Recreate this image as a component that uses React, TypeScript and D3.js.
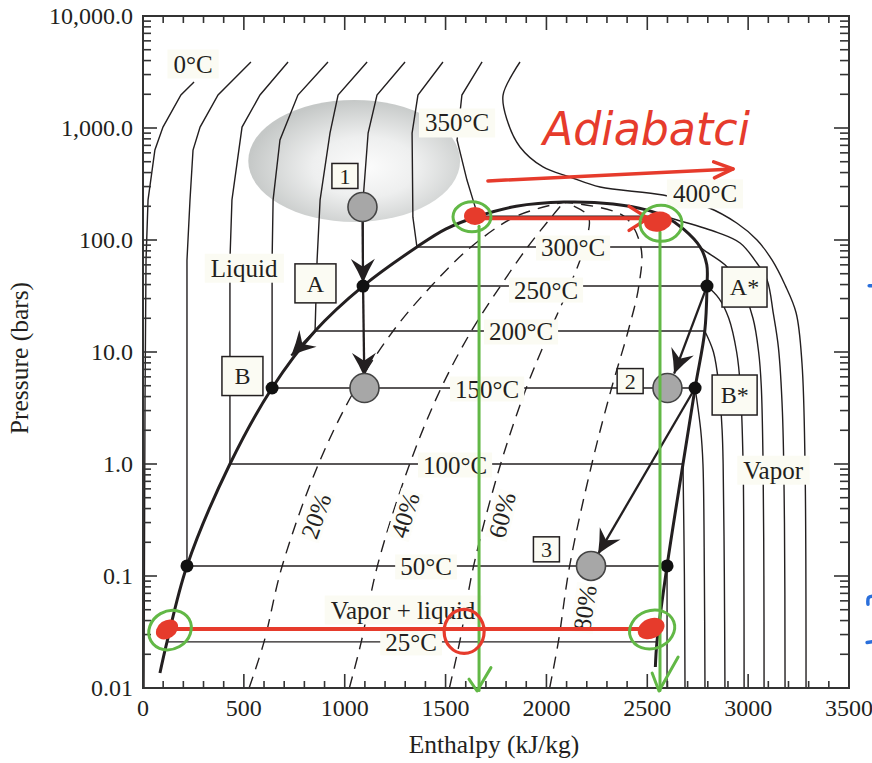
import React, { useEffect, useRef } from "react"
import * as d3 from "d3"

type Pt = [number, number]

// axis ticks
const xTickValues = [0, 500, 1000, 1500, 2000, 2500, 3000, 3500]
const yTickValues = [0.01, 0.1, 1, 10, 100, 1000, 10000]
const yTickLabels = ["0.01", "0.1", "1.0", "10.0", "100.0", "1,000.0", "10,000.0"]

// saturation dome: enthalpy (kJ/kg) / pressure (bar), liquid side up then vapour side down
const domeH = [84, 119, 218, 431, 640, 853, 1091, 1358, 1500, 1661, 1850, 2087, 2330, 2500, 2585, 2680, 2762, 2795, 2796, 2785, 2737, 2677, 2598, 2548, 2540]
const domeP = [0.0136, 0.0258, 0.123, 1.0, 4.77, 15.4, 38.8, 86.6, 125, 163, 200, 218, 210, 185, 163, 125, 86.6, 60, 38.8, 15.4, 4.77, 1.0, 0.123, 0.0258, 0.0154]

// isotherms across the two-phase region
const tieNames = ["25°C", "50°C", "100°C", "150°C", "200°C", "250°C", "300°C", ""]
const tieP = [0.0258, 0.123, 1.0, 4.77, 15.4, 38.8, 86.6, 163]
const tieHf = [119, 218, 431, 640, 853, 1091, 1358, 1661]
const tieHg = [2548, 2598, 2677, 2737, 2785, 2796, 2762, 2585]
const tieLabelH = [1329, 1403, 1547, 1706, 1874, 1998, 2132, NaN]

// liquid-side isotherms
const iso0: Pt[] = [[5, 0.01], [10, 3.7], [15, 66], [25, 228], [59, 636], [99, 1020], [188, 1970], [253, 2575]]
const iso50L: Pt[] = [[218, 0.123], [218, 66], [233, 228], [248, 636], [283, 1020], [372, 1970], [535, 3885]]
const iso100L: Pt[] = [[431, 1], [431, 66], [441, 228], [491, 1020], [580, 1970], [719, 3885]]
const iso150L: Pt[] = [[640, 4.77], [640, 66], [645, 228], [679, 782], [768, 1970], [917, 3885]]
const iso200L: Pt[] = [[853, 15.4], [863, 66], [878, 228], [927, 900], [967, 1970], [1111, 3885]]
const iso250L: Pt[] = [[1091, 38.8], [1091, 228], [1116, 900], [1160, 1970], [1299, 3885]]
const iso300L: Pt[] = [[1358, 86.6], [1338, 160], [1334, 900], [1363, 1970], [1487, 3885]]
const iso350L: Pt[] = [[1661, 163], [1636, 228], [1606, 343], [1557, 782], [1581, 1970], [1681, 3885]]

// vapour-side isotherms
const iso50V: Pt[] = [[2598, 0.123], [2598, 0.01]]
const iso100V: Pt[] = [[2677, 1], [2684, 0.1], [2687, 0.01]]
const iso150V: Pt[] = [[2737, 4.77], [2765, 2], [2776, 1], [2783, 0.1], [2786, 0.01]]
const iso200V: Pt[] = [[2785, 15.4], [2828, 10], [2855, 5], [2871, 2], [2876, 1], [2882, 0.1], [2885, 0.01]]
const iso250V: Pt[] = [[2796, 38.8], [2856, 30], [2904, 20], [2943, 10], [2961, 5], [2975, 1], [2979, 0.1], [2980, 0.01]]
const iso300V: Pt[] = [[2762, 86.6], [2786, 80], [2885, 60], [2961, 40], [3024, 20], [3052, 10], [3065, 5], [3074, 1], [3078, 0.1], [3079, 0.01]]
const iso350V: Pt[] = [[2585, 163], [2648, 151], [2846, 117], [2960, 94], [3044, 62], [3094, 44], [3125, 22], [3150, 11], [3170, 2.9], [3180, 0.3], [3183, 0.01]]
const iso400: Pt[] = [[1869, 3885], [1785, 1970], [1805, 1178], [1869, 677], [1983, 449], [2117, 365], [2266, 297], [2578, 252], [2796, 197], [2945, 141], [3044, 100], [3119, 66], [3183, 39.6], [3238, 22.3], [3267, 7.9], [3282, 1], [3287, 0.01]]

// constant quality lines
const qualityP = [0.01, 0.0258, 0.123, 1, 4.77, 15.4, 38.8, 86.6, 163, 218]
const q20H = [526, 600, 690, 870, 1055, 1240, 1429, 1626, 1850, 2087]
const q40H = [1023, 1082, 1162, 1322, 1478, 1628, 1772, 1907, 2028, 2087]
const q60H = [1519, 1570, 1639, 1773, 1900, 2017, 2115, 2187, 2207, 2087]
const q80H = [2016, 2059, 2115, 2225, 2323, 2405, 2458, 2468, 2385, 2087]
const qualityNames = ["20%", "40%", "60%", "80%"]
const qualityLabelH = [858, 1299, 1780, 2191]
const qualityLabelP = [0.343, 0.35, 0.35, 0.0518]

// region / curve labels
const noteNames = ["0°C", "350°C", "400°C", "Liquid", "Vapor", "Vapor + liquid"]
const noteH = [248, 1557, 2786, 501, 3124, 1289]
const noteP = [3727, 1109, 258, 56, 0.88, 0.0497]

// states
const stateH = [1088, 1098, 2600, 2221]
const stateP = [197, 4.77, 4.77, 0.123]
const dotH = [1091, 2796, 640, 2737, 218, 2598]
const dotP = [38.8, 38.8, 4.77, 4.77, 0.123, 0.123]
const tagNames = ["1", "A", "B", "A*", "B*", "2", "3"]
const tagH = [1001, 855, 493, 2982, 2933, 2415, 2000]
const tagP = [373, 41, 6.1, 38, 4.13, 5.5, 0.173]

// process arrows
const arrowFromH = [1088, 1091, 853, 2796, 2737]
const arrowFromP = [185, 38.8, 15.4, 38.8, 4.77]
const arrowToH = [1091, 1097, 735, 2633, 2256]
const arrowToP = [41.5, 6.0, 9.3, 6.4, 0.157]

// shaded region
const blobH = [522, 1572]
const blobP = [145, 1780]

// hand-drawn overlay
const redDotH = [1646, 2553, 119, 2519]
const redDotP = [164, 146, 0.0333, 0.034]
const greenRingH = [1631, 2568, 134, 2524]
const greenRingP = [161, 141, 0.0329, 0.0333]
const greenDropH = [1666, 2563]
const greenDropTopP = [133, 118]
const greenDropBottomP = [0.0095, 0.0095]
const checkLeft: Pt[] = [[1616, 0.012], [1656, 0.0094], [1725, 0.0152]]
const checkRight: Pt[] = [[2524, 0.0136], [2558, 0.0094], [2653, 0.0189]]
const redBottomLine: Pt[] = [[119, 0.0336], [2519, 0.0336]]
const redTopLine: Pt[] = [[1646, 156], [2504, 156]]
const redArrow: Pt[] = [[1710, 337], [2925, 431]]
const redRing: Pt = [1592, 0.032]
const scribbleText = "Adiabatci"
const scribbleAt: Pt = [1983, 705]
const blueMarkA: Pt[] = [[3594, 0.056], [3597, 0.064], [3620, 0.066]]
const blueMarkB: Pt[] = [[3590, 0.0255], [3625, 0.026]]
const blueMarkC: Pt[] = [[3600, 39], [3620, 39]]

const W = 872
const H = 763
const margin = { top: 16, right: 23, bottom: 75, left: 143 }

function App() {
    const svgRef = useRef<SVGSVGElement>(null)

    useEffect(() => {
        const svg = d3.select(svgRef.current)
        svg.selectAll("*").remove()

        const ink = "#231f20"
        const serif = "'Liberation Serif', 'DejaVu Serif', serif"
        const paper = "#fbfbf3"
        const red = "#e63b2c"
        const green = "#62b846"
        const blue = "#2a6fdb"

        const x = d3.scaleLinear().domain([0, 3500]).range([margin.left, W - margin.right])
        const y = d3.scaleLog().domain([0.01, 10000]).range([H - margin.bottom, margin.top])

        const straight = d3.line<Pt>().x((d) => x(d[0])).y((d) => y(d[1]))
        const smooth = d3
            .line<Pt>()
            .x((d) => x(d[0]))
            .y((d) => y(d[1]))
            .curve(d3.curveCatmullRom.alpha(0.5))

        const defs = svg.append("defs")
        const grad = defs
            .append("radialGradient")
            .attr("id", "blob")
            .attr("cx", "55%")
            .attr("cy", "55%")
            .attr("r", "55%")
        grad.append("stop").attr("offset", "0%").attr("stop-color", "#fcfcfc")
        grad.append("stop").attr("offset", "45%").attr("stop-color", "#eeefef")
        grad.append("stop").attr("offset", "100%").attr("stop-color", "#c5c8c7")

        defs.append("marker")
            .attr("id", "stealth")
            .attr("viewBox", "-26 -14 28 28")
            .attr("refX", 0)
            .attr("refY", 0)
            .attr("markerWidth", 28)
            .attr("markerHeight", 28)
            .attr("markerUnits", "userSpaceOnUse")
            .attr("orient", "auto")
            .append("path")
            .attr("d", "M0,0 Q-12,-5 -24,-12 L-16,0 L-24,12 Q-12,5 0,0Z")
            .attr("fill", ink)

        const chevron = (id: string, back: number, half: number) =>
            defs.append("marker")
                .attr("id", id)
                .attr("viewBox", `${-back - 4} ${-half - 4} ${back + 8} ${2 * half + 8}`)
                .attr("refX", 0)
                .attr("refY", 0)
                .attr("markerWidth", back + 8)
                .attr("markerHeight", 2 * half + 8)
                .attr("markerUnits", "userSpaceOnUse")
                .attr("orient", "auto")
                .append("path")
                .attr("d", `M${-back},${-half} L0,0 L${-back},${half}`)
                .attr("fill", "none")
                .attr("stroke", red)
                .attr("stroke-width", 3.5)
                .attr("stroke-linecap", "round")
                .attr("stroke-linejoin", "round")
        chevron("redHeadBig", 19, 12)
        chevron("redHeadSmall", 19, 8)

        // shaded region
        svg.append("ellipse")
            .attr("cx", (x(blobH[0]) + x(blobH[1])) / 2)
            .attr("cy", (y(blobP[0]) + y(blobP[1])) / 2)
            .attr("rx", (x(blobH[1]) - x(blobH[0])) / 2)
            .attr("ry", (y(blobP[0]) - y(blobP[1])) / 2)
            .attr("fill", "url(#blob)")

        // quality lines
        const qualityLines = [q20H, q40H, q60H, q80H].map((hs) =>
            hs.map((h, i) => [h, qualityP[i]] as Pt)
        )
        qualityLines.forEach((pts) => {
            svg.append("path")
                .attr("d", smooth(pts))
                .attr("fill", "none")
                .attr("stroke", ink)
                .attr("stroke-width", 1.4)
                .attr("stroke-dasharray", "12,8")
        })

        // isotherms
        ;[iso0, iso50L, iso100L, iso150L, iso200L, iso250L, iso300L, iso350L].forEach((pts) => {
            svg.append("path")
                .attr("d", straight(pts))
                .attr("fill", "none")
                .attr("stroke", ink)
                .attr("stroke-width", 1.4)
        })
        ;[iso50V, iso100V, iso150V, iso200V, iso250V, iso300V, iso350V, iso400].forEach((pts) => {
            svg.append("path")
                .attr("d", smooth(pts))
                .attr("fill", "none")
                .attr("stroke", ink)
                .attr("stroke-width", 1.4)
        })
        tieP.forEach((p, i) => {
            svg.append("line")
                .attr("x1", x(tieHf[i]))
                .attr("x2", x(tieHg[i]))
                .attr("y1", y(p))
                .attr("y2", y(p))
                .attr("stroke", ink)
                .attr("stroke-width", 1.4)
        })

        // dome
        svg.append("path")
            .attr("d", smooth(domeH.map((h, i) => [h, domeP[i]] as Pt)))
            .attr("fill", "none")
            .attr("stroke", ink)
            .attr("stroke-width", 3)

        // process arrows
        arrowFromH.forEach((h, i) => {
            svg.append("line")
                .attr("x1", x(h))
                .attr("y1", y(arrowFromP[i]))
                .attr("x2", x(arrowToH[i]))
                .attr("y2", y(arrowToP[i]))
                .attr("stroke", ink)
                .attr("stroke-width", 2.3)
                .attr("marker-end", "url(#stealth)")
        })

        dotH.forEach((h, i) => {
            svg.append("circle")
                .attr("cx", x(h))
                .attr("cy", y(dotP[i]))
                .attr("r", 6.5)
                .attr("fill", "#111")
        })
        stateH.forEach((h, i) => {
            svg.append("circle")
                .attr("cx", x(h))
                .attr("cy", y(stateP[i]))
                .attr("r", 14.5)
                .attr("fill", "#a7a7a7")
                .attr("stroke", "#444")
                .attr("stroke-width", 1.6)
        })

        // text with a paper-coloured backing
        const label = (
            px: number,
            py: number,
            text: string,
            size: number,
            padX: number,
            padY: number,
            angle = 0,
            fill = paper
        ) => {
            const g = svg.append("g").attr("transform", `translate(${px},${py}) rotate(${angle})`)
            const rect = g.append("rect")
            const t = g
                .append("text")
                .attr("text-anchor", "middle")
                .attr("dy", "0.34em")
                .attr("font-family", serif)
                .attr("font-size", size)
                .attr("fill", ink)
                .text(text)
            const b = (t.node() as SVGTextElement).getBBox()
            rect.attr("x", b.x - padX)
                .attr("y", b.y - padY + size * 0.08)
                .attr("width", b.width + 2 * padX)
                .attr("height", b.height + 2 * padY - size * 0.16)
                .attr("fill", fill)
        }

        tieNames.forEach((name, i) => {
            if (!name) return
            label(x(tieLabelH[i]), y(tieP[i]) + (i === 5 ? 4 : 1), name, 25, 5, 1)
        })
        noteNames.forEach((name, i) => {
            label(x(noteH[i]), y(noteP[i]), name, 25, 6, 3)
        })
        qualityNames.forEach((name, i) => {
            const hs = qualityLines[i]
            const p = qualityLabelP[i]
            let k = 0
            while (k < qualityP.length - 2 && qualityP[k + 1] < p) k++
            const a = hs[k]
            const b = hs[k + 1]
            const ang = (Math.atan2(y(b[1]) - y(a[1]), x(b[0]) - x(a[0])) * 180) / Math.PI
            label(x(qualityLabelH[i]), y(p), name, 25, 2, 0, ang, "#fdfdf9")
        })

        // tag boxes
        tagNames.forEach((name, i) => {
            const digit = /^[0-9]$/.test(name)
            const bw = digit ? 26 : name.length > 1 ? 45 : 41
            const bh = digit ? 25 : name.length > 1 ? 40 : 39
            const g = svg.append("g").attr("transform", `translate(${x(tagH[i])},${y(tagP[i])})`)
            g.append("rect")
                .attr("x", -bw / 2)
                .attr("y", -bh / 2)
                .attr("width", bw)
                .attr("height", bh)
                .attr("fill", paper)
                .attr("stroke", ink)
                .attr("stroke-width", 1.5)
            g.append("text")
                .attr("text-anchor", "middle")
                .attr("dy", "0.35em")
                .attr("font-family", serif)
                .attr("font-size", digit ? 22 : 24)
                .attr("fill", ink)
                .text(name)
        })

        // axes frame and ticks
        const x0 = x(0)
        const x1 = x(3500)
        const y0 = y(0.01)
        const y1 = y(10000)
        const axis = svg.append("g").attr("stroke", "#333").attr("stroke-width", 1.6)
        d3.range(0, 3501, 100).forEach((v) => {
            const len = v % 500 === 0 ? 14 : 7
            axis.append("line").attr("x1", x(v)).attr("x2", x(v)).attr("y1", y0).attr("y2", y0 - len)
            axis.append("line").attr("x1", x(v)).attr("x2", x(v)).attr("y1", y1).attr("y2", y1 + len)
        })
        d3.range(-2, 4).forEach((k) => {
            d3.range(1, 10).forEach((m) => {
                const v = m * Math.pow(10, k)
                const len = m === 1 ? 14 : 8
                axis.append("line").attr("x1", x0).attr("x2", x0 + len).attr("y1", y(v)).attr("y2", y(v))
                axis.append("line").attr("x1", x1).attr("x2", x1 - len - 1).attr("y1", y(v)).attr("y2", y(v))
            })
        })
        axis.append("line").attr("x1", x0).attr("x2", x0 + 14).attr("y1", y1).attr("y2", y1)
        axis.append("line").attr("x1", x1).attr("x2", x1 - 15).attr("y1", y1).attr("y2", y1)
        svg.append("rect")
            .attr("x", x0)
            .attr("y", y1)
            .attr("width", x1 - x0)
            .attr("height", y0 - y1)
            .attr("fill", "none")
            .attr("stroke", "#333")
            .attr("stroke-width", 2)

        yTickValues.forEach((v, i) => {
            svg.append("text")
                .attr("x", x0 - 10)
                .attr("y", y(v))
                .attr("dy", "0.34em")
                .attr("text-anchor", "end")
                .attr("font-family", serif)
                .attr("font-size", 24)
                .attr("fill", ink)
                .text(yTickLabels[i])
        })
        xTickValues.forEach((v) => {
            svg.append("text")
                .attr("x", x(v))
                .attr("y", y0 + 28)
                .attr("text-anchor", "middle")
                .attr("font-family", serif)
                .attr("font-size", 24)
                .attr("fill", ink)
                .text(String(v))
        })
        svg.append("text")
            .attr("x", (x0 + x1) / 2 - 2)
            .attr("y", 753)
            .attr("text-anchor", "middle")
            .attr("font-family", serif)
            .attr("font-size", 25.5)
            .attr("fill", ink)
            .text("Enthalpy (kJ/kg)")
        svg.append("text")
            .attr("transform", `translate(28,${(y0 + y1) / 2 + 6}) rotate(-90)`)
            .attr("text-anchor", "middle")
            .attr("font-family", serif)
            .attr("font-size", 25.5)
            .attr("fill", ink)
            .text("Pressure (bars)")

        // hand-drawn overlay
        const over = svg.append("g").attr("fill", "none").attr("stroke-linecap", "round")
        greenDropH.forEach((h, i) => {
            over.append("line")
                .attr("x1", x(h))
                .attr("x2", x(h))
                .attr("y1", y(greenDropTopP[i]))
                .attr("y2", y(greenDropBottomP[i]))
                .attr("stroke", green)
                .attr("stroke-width", 3)
        })
        ;[checkLeft, checkRight].forEach((pts) => {
            over.append("path")
                .attr("d", straight(pts))
                .attr("stroke", green)
                .attr("stroke-width", 3)
                .attr("stroke-linejoin", "round")
        })
        over.append("path")
            .attr("d", straight(redBottomLine))
            .attr("stroke", red)
            .attr("stroke-width", 4)
        over.append("path")
            .attr("d", straight(redTopLine))
            .attr("stroke", red)
            .attr("stroke-width", 4)
            .attr("marker-end", "url(#redHeadBig)")
        over.append("path")
            .attr("d", straight(redArrow))
            .attr("stroke", red)
            .attr("stroke-width", 3.5)
            .attr("marker-end", "url(#redHeadSmall)")
        const blobSize = [[11, 9, 0], [14, 10, -10], [12, 9, -35], [14, 10, -25]]
        redDotH.forEach((h, i) => {
            const [rx, ry, rot] = blobSize[i]
            over.append("ellipse")
                .attr("transform", `translate(${x(h)},${y(redDotP[i])}) rotate(${rot})`)
                .attr("rx", rx)
                .attr("ry", ry)
                .attr("fill", red)
        })
        const ringSize = [[19, 15, 0], [21, 18, 0], [22, 19, -30], [23, 19, -20]]
        greenRingH.forEach((h, i) => {
            const [rx, ry, rot] = ringSize[i]
            over.append("ellipse")
                .attr("transform", `translate(${x(h)},${y(greenRingP[i])}) rotate(${rot})`)
                .attr("rx", rx)
                .attr("ry", ry)
                .attr("stroke", green)
                .attr("stroke-width", 3)
        })
        over.append("ellipse")
            .attr("cx", x(redRing[0]))
            .attr("cy", y(redRing[1]))
            .attr("rx", 20)
            .attr("ry", 22)
            .attr("stroke", red)
            .attr("stroke-width", 3.2)
        ;[blueMarkA, blueMarkB, blueMarkC].forEach((pts) => {
            over.append("path")
                .attr("d", smooth(pts))
                .attr("stroke", blue)
                .attr("stroke-width", 3.5)
        })
        svg.append("text")
            .attr("x", x(scribbleAt[0]))
            .attr("y", y(scribbleAt[1]))
            .attr("font-family", "'DejaVu Sans', sans-serif")
            .attr("font-style", "italic")
            .attr("font-size", 46)
            .attr("textLength", 207)
            .attr("lengthAdjust", "spacingAndGlyphs")
            .attr("fill", red)
            .text(scribbleText)
    }, [])

    return (
        <svg
            ref={svgRef}
            width={W}
            height={H}
            style={{ position: "absolute", left: 0, top: 0, background: "#fff" }}
        />
    )
}

export default App
